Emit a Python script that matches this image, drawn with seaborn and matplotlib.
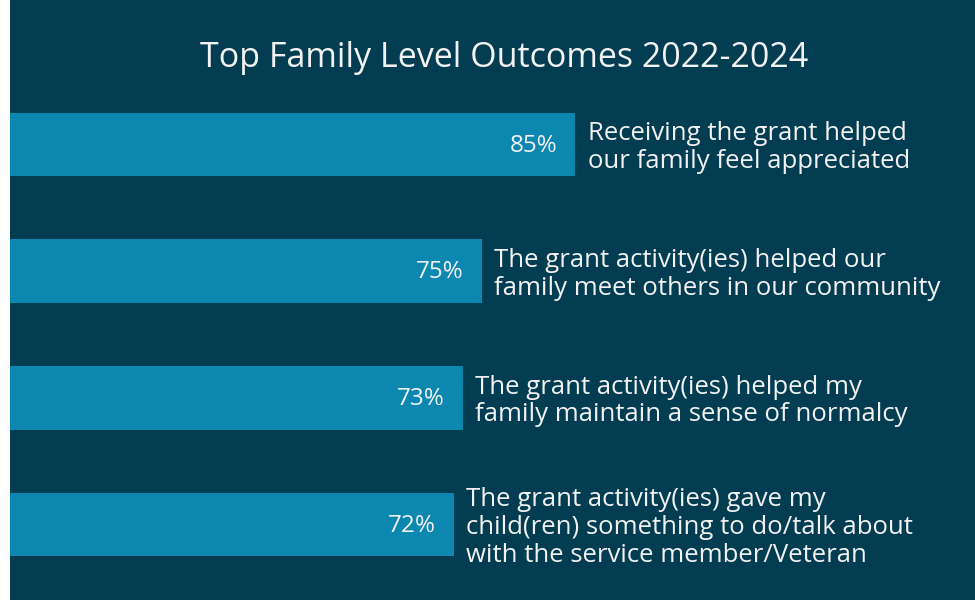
import matplotlib.pyplot as plt
import matplotlib.patches as mpatches
import seaborn as sns

# values
outcomes = [
    "Receiving the grant helped\nour family feel appreciated",
    "The grant activity(ies) helped our\nfamily meet others in our community",
    "The grant activity(ies) helped my\nfamily maintain a sense of normalcy",
    "The grant activity(ies) gave my\nchild(ren) something to do/talk about\nwith the service member/Veteran",
]
percents = [85, 75, 73, 72]

bg = "#033d51"
bar_col = "#0b87b0"
txt = "#f2f2f2"

sns.set_theme(style="white")
plt.rcParams["font.family"] = ["Open Sans", "DejaVu Sans"]

fig = plt.figure(figsize=(9.75, 6), dpi=100, facecolor=bg)
# white strip at the left edge
fig.patches.append(mpatches.Rectangle((0, 0), 10 / 975, 1, transform=fig.transFigure,
                                      facecolor="white", edgecolor="none", zorder=0))

ax = fig.add_axes([10 / 975, 12 / 600, 965 / 975, 507 / 600])
ax.set_facecolor(bg)

sns.barplot(x=percents, y=outcomes, orient="h", color=bar_col, saturation=1,
            width=0.5, linewidth=0, ax=ax)

ax.set_xlim(24.7, 127.6)
ax.set_ylim(3.5, -0.5)

for i, (p, lab) in enumerate(zip(percents, outcomes)):
    ax.text(p - 1.9, i + 0.01, f"{p}%", ha="right", va="center", color=txt, fontsize=17.5)
    ax.text(p + 1.3, i + 0.025, lab, ha="left", va="center", color=txt, fontsize=18.5,
            linespacing=1.15)

ax.set_xticks([])
ax.set_yticks([])
ax.set_xlabel("")
ax.set_ylabel("")
for s in ax.spines.values():
    s.set_visible(False)

fig.text(504 / 975, 1 - 58 / 600, "Top Family Level Outcomes 2022-2024",
         ha="center", va="center", color=txt, fontsize=24.5)

fig.savefig("out.png", dpi=100, facecolor=bg)
